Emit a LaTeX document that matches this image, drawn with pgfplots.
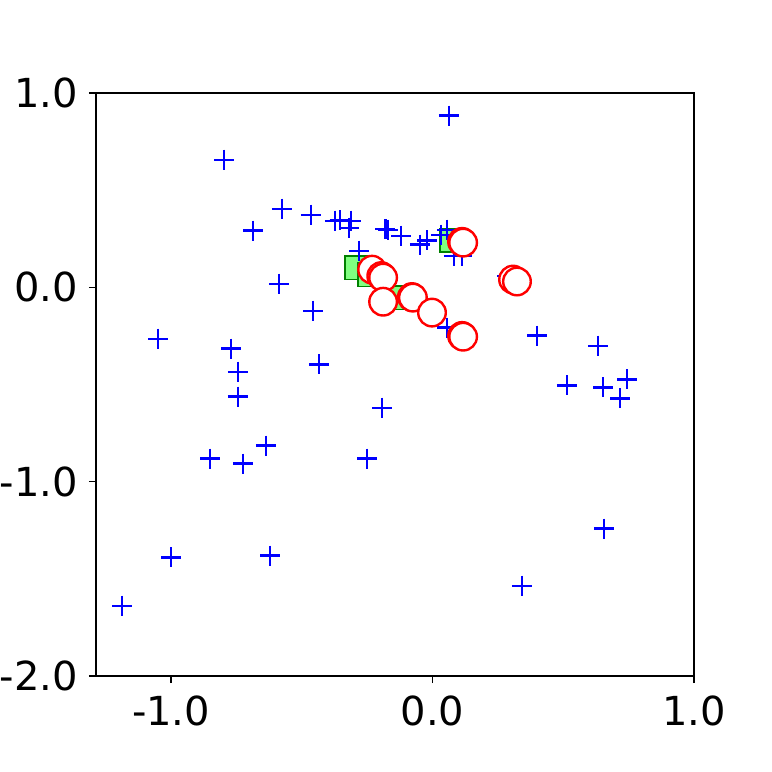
\documentclass[border=0pt]{standalone}
\usepackage{fontspec}
\setmainfont{DejaVu Sans}
\usepackage{pgfplots}
\pgfplotsset{compat=1.18}
\definecolor{ptBlue}{HTML}{0000FF}
\definecolor{ptRed}{HTML}{FF0000}
\definecolor{sqFill}{HTML}{80FF80}
\definecolor{sqEdge}{HTML}{008000}

\pgfplotstableread{
x y
0.063 0.884
-0.797 0.657
-0.576 0.405
-0.465 0.374
-0.686 0.292
-0.373 0.343
-0.355 0.345
-0.312 0.343
-0.319 0.307
-0.180 0.300
-0.170 0.297
-0.120 0.266
-0.048 0.220
-0.021 0.241
0.055 0.297
0.033 0.271
0.082 0.163
0.113 0.163
-0.281 0.189
-0.587 0.019
-0.457 -0.120
-1.049 -0.264
-0.770 -0.315
-0.744 -0.434
-0.744 -0.562
-0.434 -0.397
-0.193 -0.619
-0.637 -0.814
-0.851 -0.881
-0.725 -0.907
-0.250 -0.881
-1.000 -1.390
-0.621 -1.380
-1.187 -1.638
0.342 -1.535
0.656 -1.241
0.400 -0.248
0.633 -0.300
0.514 -0.505
0.652 -0.515
0.744 -0.474
0.717 -0.572
0.055 -0.207
0.285 0.060
}\pluses

\pgfplotstableread{
x y
-0.289 0.101
-0.239 0.065
-0.124 -0.053
0.075 0.241
}\squares

\pgfplotstableread{
x y
-0.231 0.091
-0.196 0.058
-0.189 0.050
-0.189 -0.074
-0.079 -0.050
-0.075 -0.053
-0.002 -0.130
0.113 -0.250
0.117 -0.254
0.113 0.234
0.117 0.230
0.308 0.040
0.323 0.030
}\circles

\begin{document}
\begin{tikzpicture}
\begin{axis}[
  at={(0,0)}, anchor=south west,
  scale only axis,
  width=299pt, height=291.5pt,
  xmin=-1.287, xmax=1.0,
  ymin=-2.0, ymax=1.0,
  xtick={-1,0,1}, xticklabels={-1.0,0.0,1.0},
  ytick={-2,-1,0,1}, yticklabels={-2.0,-1.0,0.0,1.0},
  tick align=outside,
  xtick pos=bottom, ytick pos=left,
  major tick length=3.5pt,
  tick style={black, line width=0.6pt},
  axis line style={black, line width=0.6pt},
  tick label style={font=\fontsize{20pt}{24pt}\selectfont},
  xticklabel style={yshift=-3pt},
  yticklabel style={xshift=-2pt},
  clip=false,
]
  \addplot[only marks, mark=square*, mark size=5.9pt,
    mark options={fill=sqFill, draw=sqEdge, line width=0.9pt}] table {\squares};
  \addplot[only marks, mark=+, mark size=5pt,
    mark options={draw=ptBlue, line width=1.1pt}] table {\pluses};
  \addplot[only marks, mark=*, mark size=6.9pt,
    mark options={fill=white, draw=ptRed, line width=1.2pt}] table {\circles};
\end{axis}
\pgfresetboundingbox
\useasboundingbox (-48pt,-48pt) rectangle (338pt,338pt);
\end{tikzpicture}
\end{document}
